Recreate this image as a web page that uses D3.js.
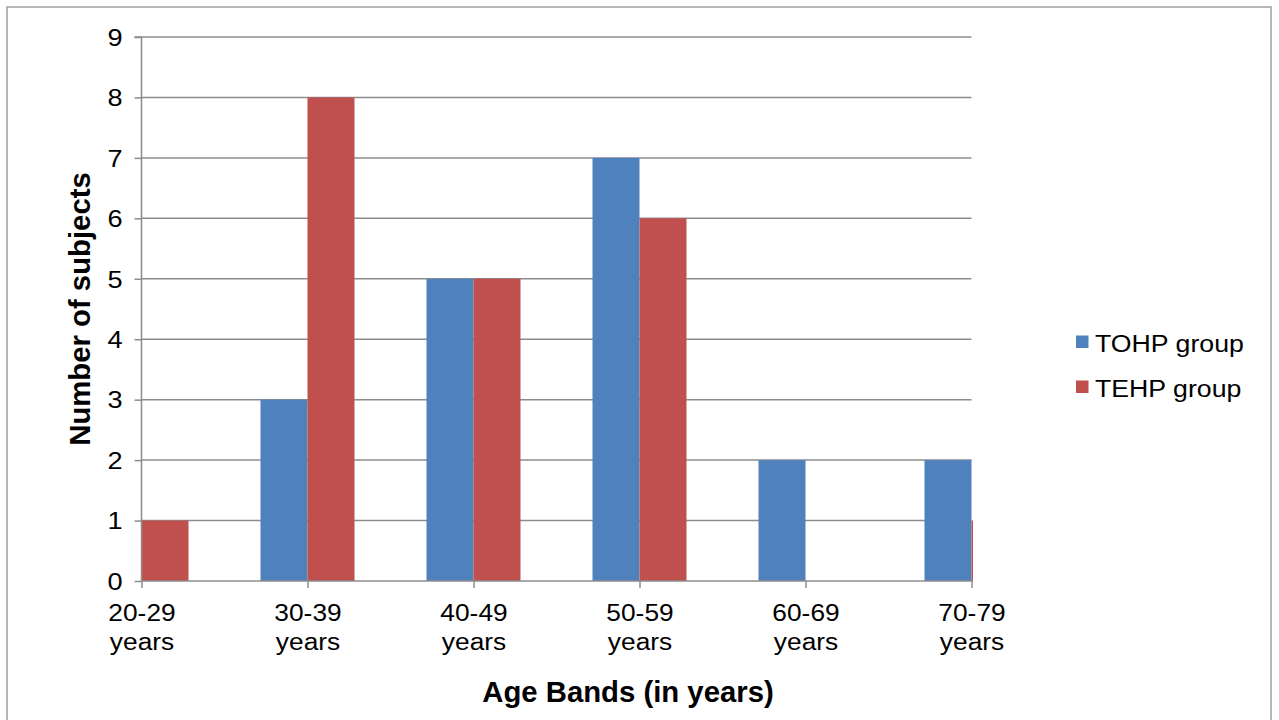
<!DOCTYPE html>
<html>
<head>
<meta charset="utf-8">
<script src="https://cdn.jsdelivr.net/npm/d3@7/dist/d3.min.js"></script>
<style>
  html, body { margin: 0; padding: 0; background: #fff; }
  svg { display: block; font-family: "Liberation Sans", Arial, sans-serif; }
</style>
</head>
<body>
<svg id="chart" width="1279" height="720"></svg>
<script>
const categories = ["20-29 years", "30-39 years", "40-49 years", "50-59 years", "60-69 years", "70-79 years"];
const seriesNames = ["TOHP group", "TEHP group"];
const tohp = [0, 3, 5, 7, 2, 2];
const tehp = [1, 8, 5, 6, 0, 1];
const yTicks = [0, 1, 2, 3, 4, 5, 6, 7, 8, 9];
const colors = ["#4F81BD", "#C0504D"];

(function () {
const svg = d3.select("#chart");
const pLeft = 141.5, pRight = 971.5, pTop = 37, pBottom = 581;
const FONT = "Liberation Sans, Arial, sans-serif";

// chart border
svg.append("rect").attr("x", 7).attr("y", 7).attr("width", 1264).attr("height", 740)
  .attr("fill", "none").attr("stroke", "#a0a0a0").attr("stroke-width", 1.5);

const x = d3.scalePoint().domain(categories).range([pLeft, pRight]);
const y = d3.scaleLinear().domain([0, 9]).range([pBottom, pTop]);
const barW = 47;

// gridlines
svg.append("g").selectAll("line").data(yTicks.filter(d => d > 0)).join("line")
  .attr("x1", pLeft).attr("x2", pRight)
  .attr("y1", d => y(d)).attr("y2", d => y(d))
  .attr("stroke", "#8c8c8c").attr("stroke-width", 1.5);

// clip
svg.append("clipPath").attr("id", "plotclip").append("rect")
  .attr("x", pLeft).attr("y", pTop - 5).attr("width", pRight - pLeft + 1.5).attr("height", pBottom - pTop + 5);

const series = [tohp, tehp];
const bars = svg.append("g").attr("clip-path", "url(#plotclip)");
series.forEach((vals, si) => {
  bars.append("g").selectAll("rect").data(vals.map((v, i) => ({ v, c: categories[i] }))).join("rect")
    .attr("x", d => x(d.c) + (si === 0 ? -barW : 0))
    .attr("width", barW)
    .attr("y", d => y(d.v))
    .attr("height", d => y(0) - y(d.v))
    .attr("fill", colors[si]);
});

// y axis
const yAxis = d3.axisLeft(y).tickValues(yTicks).tickSize(7).tickFormat(d3.format("d"));
const gy = svg.append("g").attr("transform", `translate(${pLeft},0)`).call(yAxis);
gy.select(".domain").attr("stroke", "#8c8c8c").attr("stroke-width", 1.5).attr("d", `M-7,${pTop}H0V${pBottom}`);
gy.selectAll(".tick line").attr("stroke", "#8c8c8c").attr("stroke-width", 1.5);
gy.selectAll(".tick text").attr("font-size", 23).attr("fill", "#000").attr("font-family", FONT)
  .attr("x", 0).attr("dy", "0.36em").attr("text-anchor", "end")
  .attr("transform", "translate(-19,0) scale(1.18,1)");

// x axis
const xAxis = d3.axisBottom(x).tickSize(7).tickFormat("");
const gx = svg.append("g").attr("transform", `translate(0,${pBottom})`).call(xAxis);
gx.select(".domain").attr("stroke", "#8c8c8c").attr("stroke-width", 1.5).attr("d", `M${pLeft},0H${pRight + 1}`);
gx.selectAll(".tick line").attr("stroke", "#8c8c8c").attr("stroke-width", 1.5);
gx.selectAll(".tick").each(function(d) {
  const parts = d.split(" ");
  const t = d3.select(this).append("text").attr("text-anchor", "middle").attr("fill", "#000")
    .attr("font-size", 23.5).attr("font-family", FONT).attr("transform", "scale(1.12,1)");
  t.append("tspan").attr("x", 0).attr("y", 40).text(parts[0]);
  t.append("tspan").attr("x", 0).attr("y", 69).text(parts[1]);
});

// axis titles
svg.append("text").attr("x", 628).attr("y", 702).attr("text-anchor", "middle")
  .attr("font-size", 29.3).attr("font-weight", "bold").attr("fill", "#000").text("Age Bands (in years)");
svg.append("text").attr("transform", "translate(90,309) rotate(-90)").attr("text-anchor", "middle")
  .attr("font-size", 29.3).attr("font-weight", "bold").attr("fill", "#000").text("Number of subjects");

// legend
const lg = svg.append("g");
seriesNames.forEach((n, i) => {
  const yy = 342 + i * 45;
  lg.append("rect").attr("x", 1076).attr("y", yy - 6.5).attr("width", 12.5).attr("height", 12.5).attr("fill", colors[i]);
  lg.append("text").attr("transform", `translate(1095,${yy + 9.5}) scale(1.09,1)`)
    .attr("font-size", 24.5).attr("fill", "#000").text(n);
});
})();
</script>
</body>
</html>
